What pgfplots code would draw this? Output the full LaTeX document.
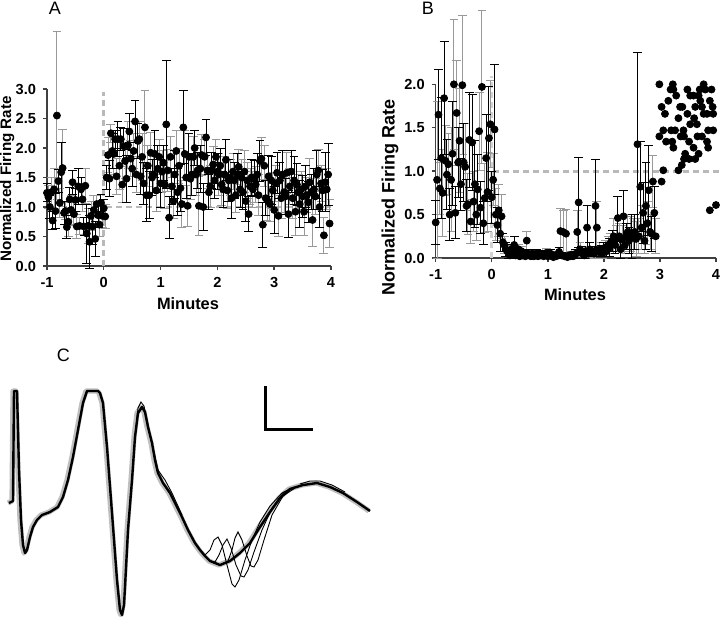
\documentclass[border=0pt]{standalone}
\usepackage{pgfplots}
\pgfplotsset{compat=1.18}
\usepackage{pgfplotstable}
\usepackage{fontspec}
\setmainfont{Liberation Sans}

\pgfplotstableread{
x y e
-1.000 1.24 0.15
-0.950 1.00 0.20
-0.900 0.77 0.15
-0.850 0.93 0.30
-0.800 1.44 0.20
-0.750 1.59 0.50
-0.700 0.90 0.20
-0.650 0.66 0.20
-0.600 1.13 0.20
-0.550 1.42 0.20
-0.500 1.12 0.20
-0.450 1.35 0.30
-0.400 1.30 0.20
-0.350 0.67 0.15
-0.300 0.55 0.50
-0.250 0.41 0.45
-0.200 0.67 0.30
-0.150 0.46 0.30
-0.100 0.86 0.20
-0.050 1.07 0.15
0.000 0.98 0.15
0.050 1.50 0.20
0.100 1.48 0.30
0.150 1.95 0.30
0.200 2.15 0.15
0.250 2.15 0.30
0.300 2.15 0.20
0.350 2.03 0.30
0.400 1.48 0.40
0.450 2.28 0.30
0.500 1.65 0.30
0.550 2.45 0.35
0.600 2.12 0.30
0.650 1.52 0.30
0.700 1.40 0.35
0.750 1.20 0.45
0.800 1.20 0.40
0.850 1.50 0.30
0.900 1.90 0.40
0.950 1.65 0.40
1.000 1.40 0.40
1.050 1.75 0.30
1.100 2.40 1.08
1.150 0.82 0.35
1.200 1.35 0.30
1.250 1.55 0.40
1.300 1.25 0.40
1.350 1.32 0.40
1.400 2.35 0.62
1.450 1.50 0.35
1.500 1.85 0.40
1.550 1.55 0.35
1.600 2.00 0.30
1.650 1.62 0.30
1.700 1.65 0.40
1.750 1.00 0.40
1.800 2.18 0.30
1.850 1.25 0.30
1.900 1.62 0.30
1.950 1.45 0.30
2.000 1.60 0.30
2.050 1.70 0.30
2.100 1.30 0.30
2.150 1.80 0.35
2.200 1.45 0.35
2.250 1.15 0.35
2.300 1.45 0.30
2.350 1.55 0.35
2.400 1.30 0.30
2.450 1.25 0.30
2.500 1.10 0.35
2.550 0.88 0.30
2.600 1.50 0.30
2.650 1.48 0.30
2.700 1.55 0.35
2.750 1.78 0.35
2.800 0.70 0.38
2.850 1.15 0.30
2.900 1.52 0.35
2.950 1.45 0.40
3.000 0.95 0.40
3.050 1.58 0.35
3.100 1.45 0.30
3.150 1.55 0.40
3.200 1.18 0.30
3.250 0.88 0.40
3.300 1.60 0.35
3.350 1.45 0.40
3.400 1.38 0.35
3.450 1.05 0.40
3.500 1.18 0.35
3.550 1.35 0.35
3.600 1.08 0.35
3.650 1.25 0.30
3.700 1.30 0.35
3.750 1.55 0.40
3.800 1.00 0.35
3.850 1.28 0.35
3.900 1.42 0.50
3.950 1.55 0.52
}\tAk

\pgfplotstableread{
x y e
-0.975 1.17 0.20
-0.925 1.25 0.25
-0.875 1.30 0.35
-0.825 2.55 1.42
-0.775 1.07 0.25
-0.725 1.66 0.65
-0.675 0.93 0.15
-0.625 0.75 0.25
-0.575 0.95 0.25
-0.525 0.88 0.20
-0.475 0.67 0.20
-0.425 0.68 0.15
-0.375 1.13 0.20
-0.325 1.36 0.30
-0.275 0.68 0.30
-0.225 0.85 0.25
-0.175 0.95 0.25
-0.125 1.05 0.15
-0.075 0.70 0.20
-0.025 0.85 0.20
0.025 0.84 0.20
0.075 1.88 0.30
0.125 2.25 0.15
0.175 1.90 0.35
0.225 1.52 0.30
0.275 1.70 0.40
0.325 1.38 0.30
0.375 1.78 0.30
0.425 2.05 0.40
0.475 1.82 0.30
0.525 1.95 0.30
0.575 1.55 0.30
0.625 2.15 0.30
0.675 1.85 0.40
0.725 2.35 0.62
0.775 1.70 0.35
0.825 1.92 0.35
0.875 1.55 0.30
0.925 1.28 0.35
0.975 1.85 0.30
1.025 1.60 0.35
1.075 1.38 0.40
1.125 1.62 0.35
1.175 1.85 0.35
1.225 1.10 0.30
1.275 1.95 0.35
1.325 1.70 0.30
1.375 1.05 0.40
1.425 1.90 0.40
1.475 1.02 0.35
1.525 1.48 0.35
1.575 1.85 0.35
1.625 1.55 0.35
1.675 1.02 0.50
1.725 1.88 0.35
1.775 1.85 0.30
1.825 1.62 0.30
1.875 1.35 0.35
1.925 1.72 0.30
1.975 1.85 0.30
2.025 1.55 0.35
2.075 1.38 0.35
2.125 1.55 0.30
2.175 1.28 0.30
2.225 1.50 0.30
2.275 1.60 0.30
2.325 1.20 0.30
2.375 1.68 0.30
2.425 1.50 0.30
2.475 1.60 0.35
2.525 1.45 0.30
2.575 1.35 0.30
2.625 1.30 0.30
2.675 1.38 0.30
2.725 1.20 0.35
2.775 1.82 0.35
2.825 1.70 0.35
2.875 1.12 0.35
2.925 1.05 0.30
2.975 1.28 0.30
3.025 1.40 0.30
3.075 0.85 0.35
3.125 1.15 0.35
3.175 1.25 0.35
3.225 1.58 0.35
3.275 1.35 0.30
3.325 1.15 0.35
3.375 0.92 0.40
3.425 1.25 0.30
3.475 1.30 0.30
3.525 0.92 0.40
3.575 1.20 0.30
3.625 1.42 0.40
3.675 0.78 0.45
3.725 1.18 0.30
3.775 1.62 0.35
3.825 1.40 0.30
3.875 0.52 0.30
3.925 1.30 0.35
3.975 0.72 0.40
}\tAg

\pgfplotstableread{
x y e
-1.000 0.41 0.25
-0.950 1.65 0.52
-0.900 1.15 0.70
-0.850 1.84 0.65
-0.800 0.96 0.40
-0.750 0.50 0.30
-0.700 1.20 0.60
-0.650 0.52 0.30
-0.600 1.10 0.40
-0.550 0.85 0.30
-0.500 1.10 0.45
-0.450 0.60 0.30
-0.400 1.36 0.55
-0.350 1.33 0.55
-0.300 0.85 0.50
-0.250 0.79 0.40
-0.200 0.58 0.30
-0.150 0.40 0.25
-0.100 1.15 0.50
-0.050 1.38 0.60
0.000 0.70 0.30
0.050 1.48 0.75
0.100 0.38 0.20
0.150 0.28 0.20
0.200 0.18 0.10
0.250 0.10 0.08
0.300 0.05 0.05
0.350 0.10 0.05
0.400 0.15 0.10
0.450 0.05 0.05
0.500 0.02 0.03
0.550 0.03 0.03
0.600 0.02 0.02
0.650 0.05 0.05
0.700 0.02 0.02
0.750 0.02 0.02
0.800 0.05 0.05
0.850 0.04 0.04
0.900 0.05 0.04
0.950 0.04 0.04
1.000 0.02 0.02
1.050 0.05 0.05
1.100 0.01 0.01
1.150 0.02 0.02
1.200 0.07 0.05
1.250 0.03 0.03
1.300 0.02 0.02
1.350 0.01 0.01
1.400 0.02 0.02
1.450 0.02 0.02
1.500 0.05 0.05
1.550 0.64 0.52
1.600 0.08 0.05
1.650 0.03 0.03
1.700 0.35 0.25
1.750 0.10 0.08
1.800 0.08 0.05
1.850 0.60 0.53
1.900 0.07 0.05
1.950 0.08 0.06
2.000 0.10 0.08
2.050 0.08 0.06
2.100 0.12 0.10
2.150 0.20 0.12
2.200 0.15 0.10
2.250 0.46 0.25
2.300 0.10 0.10
2.350 0.48 0.30
2.400 0.25 0.15
2.450 0.20 0.15
2.500 0.25 0.25
2.550 0.30 0.20
2.600 1.31 1.06
2.650 0.82 0.52
2.700 0.52 0.35
2.750 0.60 0.50
2.800 0.78 0.52
2.850 0.28 0.20
2.900 0.52 0.30
}\tBk

\pgfplotstableread{
x y e
-0.975 0.90 0.90
-0.925 0.80 0.30
-0.875 0.75 0.50
-0.825 1.12 0.40
-0.775 1.08 0.35
-0.725 0.90 0.60
-0.675 2.00 0.75
-0.625 1.67 0.60
-0.575 1.35 0.60
-0.525 1.99 0.80
-0.475 1.05 0.50
-0.425 0.62 0.35
-0.375 0.42 0.25
-0.325 0.65 0.35
-0.275 0.50 0.30
-0.225 1.46 0.45
-0.175 1.97 0.88
-0.125 0.69 0.40
-0.075 0.76 0.45
-0.025 1.54 0.50
0.025 0.90 0.30
0.075 0.50 0.30
0.125 0.55 0.30
0.175 0.48 0.25
0.225 0.15 0.10
0.275 0.08 0.06
0.325 0.03 0.03
0.375 0.06 0.05
0.425 0.03 0.03
0.475 0.10 0.06
0.525 0.08 0.05
0.575 0.06 0.04
0.625 0.20 0.10
0.675 0.03 0.03
0.725 0.05 0.04
0.775 0.03 0.03
0.825 0.02 0.02
0.875 0.03 0.03
0.925 0.02 0.02
0.975 0.06 0.05
1.025 0.03 0.03
1.075 0.02 0.02
1.125 0.03 0.03
1.175 0.04 0.03
1.225 0.31 0.26
1.275 0.30 0.25
1.325 0.28 0.28
1.375 0.03 0.03
1.425 0.04 0.03
1.475 0.03 0.03
1.525 0.30 0.25
1.575 0.10 0.08
1.625 0.05 0.05
1.675 0.08 0.05
1.725 0.05 0.04
1.775 0.06 0.05
1.825 0.05 0.05
1.875 0.35 0.30
1.925 0.10 0.08
1.975 0.05 0.05
2.025 0.12 0.08
2.075 0.15 0.10
2.125 0.18 0.10
2.175 0.25 0.20
2.225 0.22 0.15
2.275 0.25 0.15
2.325 0.22 0.15
2.375 0.15 0.10
2.425 0.30 0.20
2.475 0.28 0.20
2.525 0.25 0.20
2.575 0.22 0.20
2.625 0.25 0.20
2.675 0.35 0.25
2.725 0.20 0.15
2.775 0.40 0.25
2.825 0.30 0.20
2.875 0.88 0.30
2.925 0.25 0.20
}\tBg

\pgfplotstableread{
x y
2.99 2.00
3.03 1.74
2.99 1.40
3.06 1.47
3.09 1.66
3.11 1.34
3.06 1.01
3.03 0.88
3.15 1.81
3.19 1.94
3.23 2.00
3.24 1.94
3.20 1.47
3.24 1.27
3.27 1.47
3.22 1.34
3.29 1.87
3.33 1.61
3.36 1.74
3.37 1.40
3.40 1.74
3.43 1.40
3.33 1.01
3.39 1.07
3.42 1.47
3.45 1.20
3.43 1.14
3.49 1.94
3.52 1.34
3.54 1.54
3.52 1.14
3.60 1.87
3.63 1.74
3.61 1.61
3.66 1.54
3.60 1.27
3.63 1.14
3.69 1.20
3.67 1.40
3.71 1.94
3.72 1.81
3.75 1.74
3.78 2.00
3.81 1.94
3.78 1.66
3.75 1.40
3.84 1.66
3.86 1.47
3.84 1.34
3.86 1.27
3.89 1.81
3.92 1.94
3.94 1.74
3.95 1.66
3.89 0.55
4.00 0.61
3.95 1.47
3.49 1.66
3.54 1.87
3.69 1.87
}\tBs

\pgfplotsset{
  panel/.style={scale only axis, axis lines*=left, tick align=outside,
    major tick length=2pt, enlargelimits=false, clip=false,
    axis line style={black!75, line width=0.7pt},
    every tick/.style={black!75, line width=0.7pt},
    tick label style={font=\fontsize{7.3}{8}\selectfont\bfseries},
    /pgf/number format/assume math mode=true,
    xmin=-1, xmax=4, ymin=0, xtick={-1,0,1,2,3,4},
    yticklabel style={/pgf/number format/.cd, fixed, fixed zerofill, precision=1}},
  ebk/.style={only marks, mark=*, mark size=1.75pt, black, mark options={fill=black, draw=black},
    error bars/.cd, y dir=both, y explicit,
    error bar style={black, line width=0.5pt},
    error mark options={rotate=90, black, mark size=2.2pt, line width=0.5pt}},
  ebg/.style={only marks, mark=*, mark size=1.75pt, black, mark options={fill=black, draw=black},
    error bars/.cd, y dir=both, y explicit,
    error bar style={gray!80, line width=0.5pt},
    error mark options={rotate=90, gray!80, mark size=2.2pt, line width=0.5pt}},
  dashln/.style={gray!55, line width=1.4pt, dash pattern=on 3pt off 2pt}
}

\begin{document}
\begin{tikzpicture}
\useasboundingbox (0,0) rectangle (360pt,-308.5pt);

% Panel A
\begin{axis}[panel, at={(23.5pt,-133pt)}, anchor=south west,
  width=142pt, height=88.5pt, ymax=3, ytick={0,0.5,1,1.5,2,2.5,3}]
\addplot[dashln] coordinates {(0.03,1) (4,1)};
\addplot[dashln] coordinates {(0,0) (0,2.95)};
\addplot[ebg] table[x=x,y=y,y error=e] {\tAg};
\addplot[ebk] table[x=x,y=y,y error=e] {\tAk};
\end{axis}

% Panel B
\begin{axis}[panel, at={(217.85pt,-129pt)}, anchor=south west,
  width=140.15pt, height=86.85pt, ymax=2, ytick={0,0.5,1,1.5,2}]
\addplot[dashln] coordinates {(0.03,1) (4.1,1)};
\addplot[dashln, gray!35] coordinates {(0,0) (0,2.1)};
\addplot[ebg] table[x=x,y=y,y error=e] {\tBg};
\addplot[ebk] table[x=x,y=y,y error=e] {\tBk};
\addplot[only marks, mark=*, mark size=1.75pt, black] table[x=x,y=y] {\tBs};
\end{axis}

% Panel C (pixel coordinates)
\begin{axis}[at={(0pt,0pt)}, anchor=north west, scale only axis,
  width=360pt, height=308.5pt, xmin=0, xmax=720, ymin=-617, ymax=0,
  hide axis, clip=false]
\addplot[gray!50, line width=2.6pt, line join=round] coordinates {
(8,-503) (12,-501) (13,-391) (16,-391) (18,-470) (20,-520) (22,-545) (24,-553) (26,-550) (29,-537) (32,-527) (36,-520) (41,-515) (49,-512) (57,-507) (62,-497) (67,-480) (72,-457) (77,-430) (82,-403) (86,-391) (97,-391) (99,-393) (102,-403) (106,-447) (111,-513) (116,-580) (119,-610) (121,-615) (123,-605) (124,-587) (127,-530) (131,-480) (134,-437) (137,-413) (141,-407) (144,-412) (147,-427) (151,-443) (154,-460) (157,-473) (162,-483) (169,-493) (174,-503) (181,-517) (187,-530) (194,-543) (199,-550) (204,-556) (209,-561) (219,-565) (229,-561) (239,-553) (249,-543) (259,-527) (269,-512) (279,-498) (289,-489) (302,-485) (316,-483) (329,-487) (342,-493) (356,-502) (369,-511)};
\addplot[black, line width=1.2pt, line join=round] coordinates {
(9,-503) (13,-501) (14,-391) (17,-391) (19,-470) (21,-520) (23,-545) (25,-553) (27,-550) (30,-537) (33,-527) (37,-520) (42,-515) (50,-512) (58,-507) (63,-497) (68,-480) (73,-457) (78,-430) (83,-403) (87,-391) (98,-391) (100,-393) (103,-403) (107,-447) (112,-513) (117,-580) (120,-610) (122,-615) (124,-605) (125,-587) (128,-530) (132,-480) (135,-437) (138,-413) (142,-407) (145,-412) (148,-427) (152,-443) (155,-460) (158,-473) (163,-483) (170,-493) (175,-503) (182,-517) (188,-530) (195,-543) (200,-550) (205,-556) (210,-561) (220,-565) (230,-561) (240,-553) (250,-543) (260,-527) (270,-512) (280,-498) (290,-489) (303,-485) (317,-483) (330,-487) (343,-493) (357,-502) (370,-511)};
\addplot[black, line width=0.45pt] coordinates {
(135,-437) (138,-408) (141,-402) (144,-406) (148,-425) (152,-443) (158,-470) (165,-480) (172,-493) (182,-515)};
\addplot[black, line width=0.45pt] coordinates {
(200,-550) (205,-555) (210,-550) (214,-540) (218,-537) (222,-545) (227,-565) (232,-584) (235,-587) (239,-580) (245,-560) (252,-540) (260,-522) (270,-506) (282,-493) (292,-488)};
\addplot[black, line width=0.45pt] coordinates {
(210,-561) (215,-562) (219,-555) (223,-545) (227,-539) (231,-548) (236,-565) (241,-576) (244,-577) (248,-570) (254,-552) (262,-530) (272,-508) (284,-492) (295,-487)};
\addplot[black, line width=0.45pt] coordinates {
(222,-564) (228,-561) (232,-550) (235,-538) (238,-532) (242,-540) (247,-556) (251,-566) (254,-567) (258,-560) (264,-540) (272,-515) (283,-496) (295,-488)};
\addplot[black, line width=0.45pt] coordinates {
(300,-484) (310,-481) (320,-481) (332,-485) (345,-492)};
% scale bar
\addplot[black, line width=1.5pt] coordinates {(265.7,-386) (265.7,-429.3) (313.3,-429.3)};
\end{axis}

% Labels
\node[font=\fontsize{9}{10}\selectfont] at (27.5pt,-4pt) {A};
\node[font=\fontsize{9}{10}\selectfont] at (214pt,-4.2pt) {B};
\node[font=\fontsize{9}{10}\selectfont] at (31.7pt,-177.5pt) {C};
\node[font=\fontsize{8.2}{9}\selectfont\bfseries] at (94pt,-152pt) {Minutes};
\node[font=\fontsize{8.2}{9}\selectfont\bfseries] at (287.5pt,-147.5pt) {Minutes};
\node[font=\fontsize{7.6}{8}\selectfont\bfseries, rotate=90] at (3.6pt,-89.5pt) {Normalized Firing Rate};
\node[font=\fontsize{9}{10}\selectfont\bfseries, rotate=90] at (195pt,-98.5pt) {Normalized Firing Rate};
\end{tikzpicture}
\end{document}
